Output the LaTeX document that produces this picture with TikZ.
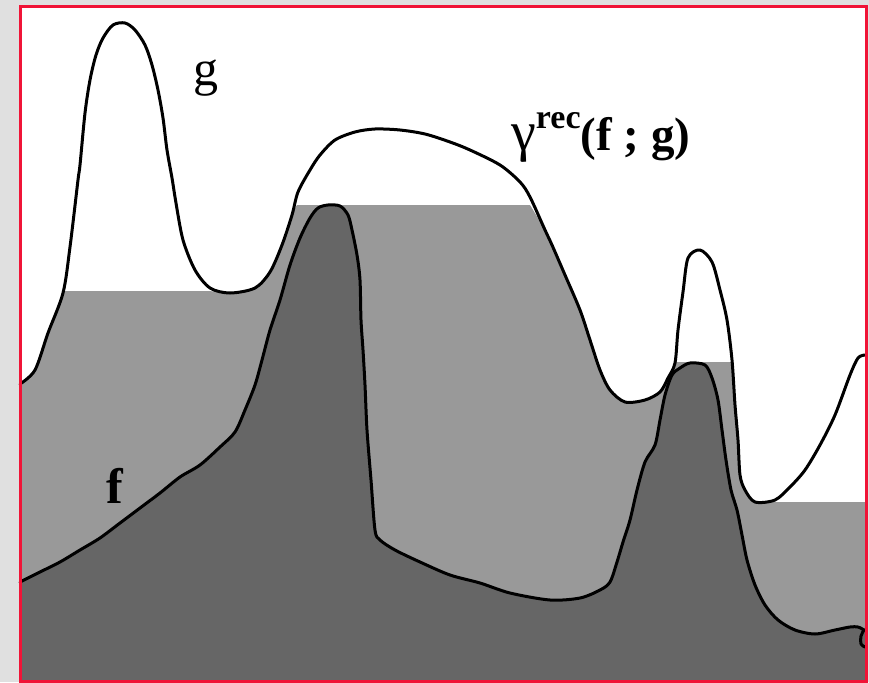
\documentclass[tikz,border=0pt]{standalone}
\usepackage{fontspec}
\setmainfont{Liberation Serif}
\definecolor{paper}{gray}{0.88}
\definecolor{framered}{RGB}{240,20,55}
\definecolor{recgray}{gray}{0.6}
\definecolor{fgray}{gray}{0.4}

\begin{document}
\begin{tikzpicture}[x=1pt, y=-1pt,
  curve/.style = {draw=black, line width=3pt, line join=round, line cap=round},
  region/.style = {draw=none},
  lbl/.style = {inner sep=0pt, anchor=base west, font=\fontsize{50}{52}\selectfont}
]
  \useasboundingbox (0,0) rectangle (869,682);

  % Hintergrund und Bildflaeche
  \fill[paper] (0,0) rectangle (869,682);
  \fill[white] (20,7) rectangle (866,681);

  % Rekonstruktion gamma^rec(f;g), hellgrau
  \fill[region, recgray] (20,384)
    -- plot[smooth, tension=0.5] coordinates {(20,384) (35,370) (48,333) (63,291)}
    -- (210,291)
    -- plot[smooth, tension=0.5] coordinates {(210,291) (230,293) (255,288) (270,272) (282,245) (292,215) (297,205)}
    -- (530,205)
    -- plot[smooth, tension=0.5] coordinates {(530,205) (545,230) (552,245) (565,275) (580,310) (590,340) (600,370) (610,390) (625,402) (645,400) (660,392) (668,378) (676,362)}
    -- (733,362)
    -- plot[smooth, tension=0.5] coordinates {(733,362) (735,405) (738,440) (740,475) (745,490) (755,502)}
    -- (866,502) -- (866,681) -- (20,681) -- cycle;

  % Funktion f, dunkelgrau
  \fill[region, fgray] (20,681)
    -- plot[smooth, tension=0.5] coordinates {(20,582) (40,572) (60,562) (80,550) (100,538) (120,523) (140,508) (160,493) (180,477) (200,465) (220,447) (235,432) (245,410) (255,385) (262,360) (270,330) (280,300) (290,265) (300,238) (310,218) (318,208) (328,205) (340,206) (348,215) (352,230) (357,255) (360,280) (361,320) (363,350) (365,385) (367,430) (371,480) (375,530) (380,540) (395,550) (420,562) (450,575) (480,583) (510,593) (550,600) (580,598) (600,590) (610,582) (617,562) (623,542) (630,520) (637,490) (645,462) (655,445) (660,420) (665,395) (672,375) (680,368) (690,363) (705,365) (712,378) (718,400) (722,430) (726,460) (731,490) (737,510) (742,535) (747,560) (755,585) (765,605) (778,620) (795,630) (815,634) (835,630) (850,627) (858,627) (866,630)}
    -- (866,681) -- cycle;

  % Kurve f
  \draw[curve] plot[smooth, tension=0.5] coordinates {(20,582) (40,572) (60,562) (80,550) (100,538) (120,523) (140,508) (160,493) (180,477) (200,465) (220,447) (235,432) (245,410) (255,385) (262,360) (270,330) (280,300) (290,265) (300,238) (310,218) (318,208) (328,205) (340,206) (348,215) (352,230) (357,255) (360,280) (361,320) (363,350) (365,385) (367,430) (371,480) (375,530) (380,540) (395,550) (420,562) (450,575) (480,583) (510,593) (550,600) (580,598) (600,590) (610,582) (617,562) (623,542) (630,520) (637,490) (645,462) (655,445) (660,420) (665,395) (672,375) (680,368) (690,363) (705,365) (712,378) (718,400) (722,430) (726,460) (731,490) (737,510) (742,535) (747,560) (755,585) (765,605) (778,620) (795,630) (815,634) (835,630) (850,627) (858,627) (864,630)};
  \draw[curve] plot[smooth, tension=0.6] coordinates {(864,630) (861,636) (861,644) (865,647)};

  % Kurve g
  \draw[curve] plot[smooth, tension=0.5] coordinates {(20,384) (35,370) (48,333) (63,293) (70,247) (78,180) (80,165) (85,113) (90,80) (96,55) (103,38) (113,25) (125,23) (135,30) (145,45) (152,65) (158,90) (163,118) (167,150) (172,178) (176,203) (183,240) (195,270) (210,288) (230,293) (255,288) (270,272) (282,245) (292,215) (298,192) (310,170) (320,155) (335,140) (355,132) (375,129) (400,130) (425,134) (450,142) (470,150) (500,165) (520,182) (530,197) (545,230) (552,245) (565,275) (580,310) (590,340) (600,370) (610,390) (625,402) (645,400) (660,392) (668,378) (675,363) (678,330) (683,292) (688,258) (700,250) (712,262) (720,290) (727,320) (732,360) (735,405) (738,440) (740,475) (745,490) (755,502) (775,500) (790,487) (805,470) (820,445) (835,415) (850,375) (858,358) (865,355)};

  % Beschriftungen
  \node[lbl] (glabel) at (193,86) {g};
  \node[lbl, font=\fontsize{50}{52}\selectfont\bfseries] (flabel) at (106,503) {f};
  \node[lbl, font=\fontsize{47}{49}\selectfont] (reclabel) at (511,150)
    {{\fontsize{56}{58}\selectfont γ}\raisebox{22pt}{\fontsize{34}{36}\selectfont\bfseries rec}\textbf{(f ; g)}};

  % roter Rahmen
  \draw[framered, line width=3pt] (20,7) rectangle (866,681);
\end{tikzpicture}
\end{document}
